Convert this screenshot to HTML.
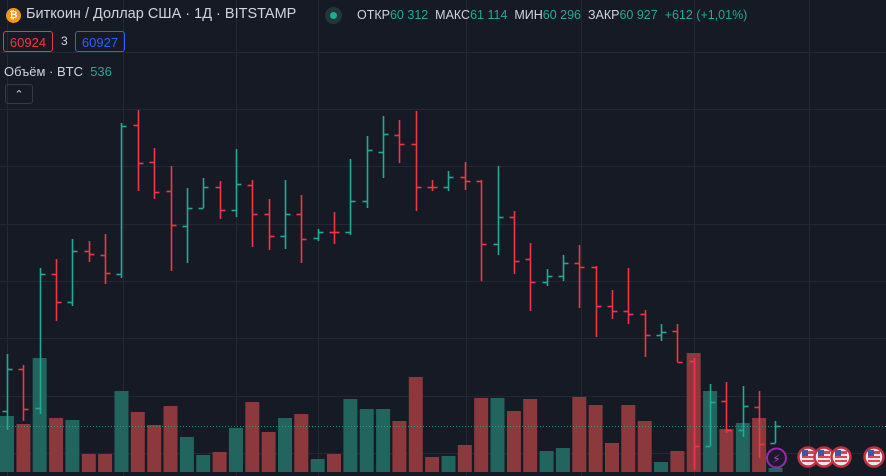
<!DOCTYPE html>
<html><head><meta charset="utf-8">
<style>
html,body{margin:0;padding:0;background:#161a25;width:886px;height:476px;overflow:hidden;font-family:"Liberation Sans","DejaVu Sans",sans-serif;}
#c{position:absolute;left:0;top:0}
.t{position:absolute;white-space:nowrap;color:#d1d4dc}
.g{color:#22ab94}
.box{position:absolute;height:21px;border:1px solid;border-radius:3px;font-size:13px;line-height:21px;text-align:center;box-sizing:border-box}
</style></head><body>
<svg id="c" width="886" height="476" xmlns="http://www.w3.org/2000/svg"></svg>
<div style="position:absolute;left:6px;top:8px;width:15px;height:15px;border-radius:50%;background:#f7931a;color:#fff;font-size:10px;line-height:15px;text-align:center;font-weight:bold">₿</div>
<div class="t" style="left:26px;top:6px;font-size:14.5px">Биткоин / Доллар США · 1Д · BITSTAMP</div>
<div style="position:absolute;left:325px;top:7px;width:17px;height:17px;border-radius:50%;background:#1d3a37"></div>
<div style="position:absolute;left:330px;top:12px;width:7px;height:7px;border-radius:50%;background:#22ab94"></div>
<div class="t" style="left:357px;top:8px;font-size:12.5px">ОТКР<span class="g">60 312</span>&nbsp; МАКС<span class="g">61 114</span>&nbsp; МИН<span class="g">60 296</span>&nbsp; ЗАКР<span class="g">60 927&nbsp; +612 (+1,01%)</span></div>
<div class="box" style="left:3px;top:31px;width:50px;border-color:#f23645;color:#f23645">60924</div>
<div class="t" style="left:61px;top:34px;font-size:12px">3</div>
<div class="box" style="left:75px;top:31px;width:50px;border-color:#2962ff;color:#2962ff">60927</div>
<div class="t" style="left:4px;top:64px;font-size:13px">Объём · BTC&nbsp; <span class="g">536</span></div>
<div style="position:absolute;left:5px;top:84px;width:28px;height:20px;border:1px solid #363a45;border-radius:3px;box-sizing:border-box;color:#d1d4dc;font-size:11px;text-align:center;line-height:20px">⌃</div>
<script>
var s=document.getElementById('c'),h='';
[52,109,166,224,281,338,396,453].forEach(function(y){h+='<line x1="0" x2="886" y1="'+(y+.5)+'" y2="'+(y+.5)+'" stroke="#242833"/>';});
[7,123,236,318,466,581,694,809].forEach(function(x){h+='<line y1="0" y2="476" x1="'+(x+.5)+'" x2="'+(x+.5)+'" stroke="#242833"/>';});
var d=[[354,430,411,369],[365,421,369,409],[268,414,408,274],[259,321,274,302],[239,306,302,251],[241,262,251,254],[234,284,255,273],[123,278,274,126],[110,191,125,163],[148,199,162,192],[166,271,191,225],[188,263,226,208],[178,208,208,187],[181,219,187,210],[149,217,210,184],[180,247,185,214],[199,250,214,236],[180,249,236,214],[195,263,214,239],[229,241,238,232],[212,244,232,232],[159,235,232,201],[136,208,201,150],[116,178,152,134],[120,163,135,144],[111,211,144,187],[180,191,187,187],[171,191,187,177],[162,190,177,181],[180,281,181,244],[166,255,244,217],[211,274,217,261],[243,311,259,282],[269,286,282,276],[255,281,276,263],[245,308,263,267],[266,337,267,306],[290,319,306,311],[268,324,311,314],[310,357,314,335],[324,341,335,332],[324,362,331,362],[358,470,361,446],[384,446,446,402],[382,433,401,430],[386,437,430,406],[391,458,407,444],[421,443,443,426]];
var v=[416,424,358,418,420,454,454,391,412,425,406,437,455,452,428,402,432,418,414,459,454,399,409,409,421,377,457,456,445,398,398,411,399,451,448,397,405,443,405,421,462,451,353,391,429,423,418,468];
var vb='',bs='';
d.forEach(function(b,i){var x=7+16.35*i,up=b[3]<b[2];
var vx=x-7;vb+='<rect x="'+vx.toFixed(1)+'" y="'+v[i]+'" width="14" height="'+(472-v[i])+'" fill="'+(up?'#21655e':'#8b393d')+'"/>';
var c=up?'#22ab94':'#f23645',xl=Math.round(x)+.5;
bs+='<line x1="'+xl+'" x2="'+xl+'" y1="'+b[0]+'" y2="'+b[1]+'" stroke="'+c+'" stroke-width="1.6"/>';
bs+='<line x1="'+(xl-5)+'" x2="'+xl+'" y1="'+(b[2]+.5)+'" y2="'+(b[2]+.5)+'" stroke="'+c+'" stroke-width="1.6"/>';
bs+='<line x1="'+xl+'" x2="'+(xl+5)+'" y1="'+(b[3]+.5)+'" y2="'+(b[3]+.5)+'" stroke="'+c+'" stroke-width="1.6"/>';});
h+=vb;
h+='<line x1="0" x2="886" y1="426.5" y2="426.5" stroke="#22ab94" stroke-dasharray="1,2" opacity=".8"/>';
h+=bs;
h+='<circle cx="776.5" cy="458" r="9.5" fill="#1e1a2e" stroke="#9c27b0" stroke-width="2"/><text x="776.5" y="463" font-size="12" fill="#ab47bc" text-anchor="middle">⚡</text>';
[808,824,841,874].forEach(function(x){h+='<circle cx="'+x+'" cy="457" r="9.5" fill="#e8e8f0" stroke="#c62f3c" stroke-width="2.5"/><rect x="'+(x-6)+'" y="451" width="12" height="3" fill="#e04050"/><rect x="'+(x-6)+'" y="456" width="12" height="2" fill="#e04050"/><rect x="'+(x-6)+'" y="460" width="12" height="2" fill="#e04050"/><rect x="'+(x-6)+'" y="450" width="6" height="6" fill="#3a5aa8"/>';});
s.innerHTML=h;
</script>
</body></html>
